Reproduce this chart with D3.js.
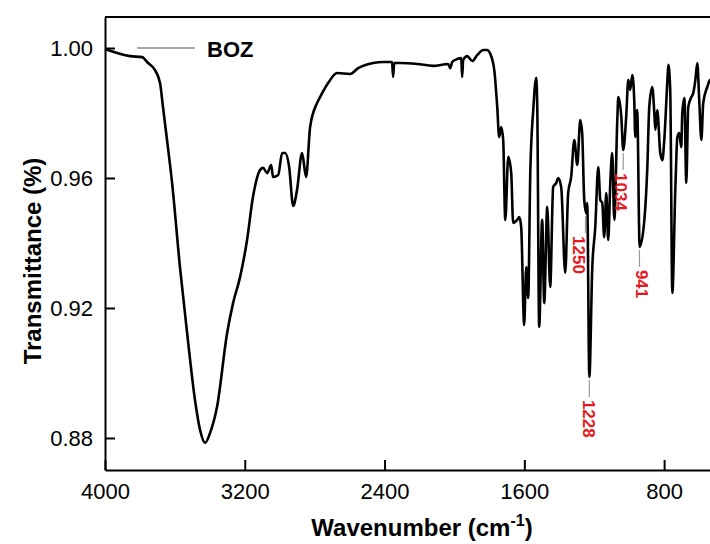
<!DOCTYPE html>
<html>
<head>
<meta charset="utf-8">
<script src="https://cdn.jsdelivr.net/npm/d3@7"></script>
<style>
    body { margin: 0; background: #fff; }
    svg { display: block; font-family: 'Liberation Sans', Arial, sans-serif; }
    .axis path, .axis line { stroke: #000; stroke-width: 2; }
    .axis text { font-size: 22px; fill: #000; }
    .axis-title { font-size: 24px; font-weight: bold; }
    .peak-label { font-size: 17px; font-weight: bold; fill: #e8191e; }
</style>
</head>
<body>
<svg id="chart"></svg>
<script>
// FTIR spectrum of BOZ
const wavenumber = [
    4000, 3857, 3788, 3754, 3714, 3685, 3668, 3645, 3616, 3571,
    3530, 3485, 3456, 3427, 3399, 3359, 3301, 3267, 3227, 3187,
    3153, 3112, 3095, 3072, 3049, 3038, 3009, 2986, 2969, 2946,
    2923, 2901, 2872, 2849, 2826, 2786, 2769, 2723, 2672, 2597,
    2551, 2465, 2408, 2357, 2351, 2345, 2311, 2213, 2122, 2036,
    2024, 2013, 1984, 1961, 1956, 1950, 1927, 1898, 1870, 1835,
    1813, 1795, 1772, 1755, 1744, 1732, 1721, 1709, 1692, 1675,
    1664, 1641, 1629, 1618, 1601, 1589, 1578, 1566, 1549, 1532,
    1526, 1515, 1498, 1486, 1469, 1452, 1435, 1417, 1406, 1389,
    1366, 1349, 1332, 1314, 1297, 1280, 1269, 1257, 1246, 1240,
    1228, 1211, 1194, 1177, 1165, 1154, 1143, 1131, 1120, 1108,
    1097, 1085, 1068, 1062, 1045, 1034, 1017, 1005, 994, 982,
    971, 965, 954, 940, 913, 896, 885, 868, 856, 850,
    839, 822, 810, 799, 782, 776, 765, 753, 736, 724,
    713, 702, 696, 684, 673, 662, 644, 633, 621, 610,
    599, 587, 576, 553, 536, 507
];

const transmittance = [
    0.9997, 0.9975, 0.9972, 0.9954, 0.9932, 0.9892, 0.9818, 0.9717, 0.9585, 0.9326,
    0.9123, 0.8917, 0.8825, 0.8785, 0.8815, 0.8895, 0.9123, 0.9215, 0.9295, 0.9409,
    0.9542, 0.9625, 0.9631, 0.9615, 0.9640, 0.9603, 0.9609, 0.9677, 0.9677, 0.9634,
    0.9514, 0.9563, 0.9677, 0.9603, 0.9757, 0.9831, 0.9849, 0.9892, 0.9923, 0.9920,
    0.9938, 0.9954, 0.9957, 0.9957, 0.9911, 0.9954, 0.9954, 0.9951, 0.9945, 0.9951,
    0.9938, 0.9957, 0.9966, 0.9969, 0.9911, 0.9963, 0.9975, 0.9960, 0.9978, 0.9994,
    0.9994, 0.9982, 0.9932, 0.9818, 0.9726, 0.9757, 0.9717, 0.9471, 0.9665, 0.9615,
    0.9462, 0.9471, 0.9480, 0.9449, 0.9148, 0.9326, 0.9231, 0.9615, 0.9809, 0.9908,
    0.9818, 0.9142, 0.9471, 0.9215, 0.9511, 0.9265, 0.9572, 0.9585, 0.9600, 0.9572,
    0.9308, 0.9554, 0.9603, 0.9717, 0.9640, 0.9778, 0.9738, 0.9532, 0.9492, 0.9523,
    0.8988, 0.9326, 0.9449, 0.9634, 0.9532, 0.9523, 0.9418, 0.9554, 0.9409, 0.9585,
    0.9677, 0.9471, 0.9778, 0.9849, 0.9788, 0.9686, 0.9788, 0.9902, 0.9871, 0.9917,
    0.9840, 0.9726, 0.9809, 0.9388, 0.9471, 0.9634, 0.9818, 0.9880, 0.9800, 0.9748,
    0.9809, 0.9677, 0.9655, 0.9717, 0.9892, 0.9948, 0.9871, 0.9246, 0.9563, 0.9726,
    0.9738, 0.9695, 0.9800, 0.9846, 0.9585, 0.9818, 0.9849, 0.9862, 0.9902, 0.9954,
    0.9840, 0.9717, 0.9831, 0.9880, 0.9902, 0.9886
];

// annotated bands: label, wavenumber, transmittance where the leader starts
const peakLabels = ['1250', '1228', '1034', '941'];
const peakWavenumber = [1250, 1228, 1034, 941];
const peakTransmittance = [0.9492, 0.8988, 0.9686, 0.9388];

const xTicks = [4000, 3200, 2400, 1600, 800];
const yTicks = [0.88, 0.92, 0.96, 1.00];
const seriesName = 'BOZ';

const config = {
    width: 710,
    height: 544,
    margin: { top: 17, left: 105, bottom: 74 },
    plotRight: 734,
    tickLength: 10,
    labelShift: [-7, 0, -2, 2],   // nudges so the red labels clear the curve
};

const svg = d3.select('#chart')
    .attr('width', config.width)
    .attr('height', config.height);

const plotBottom = config.height - config.margin.bottom;

const xScale = d3.scaleLinear()
    .domain([4000, 400])
    .range([config.margin.left, config.plotRight]);

const yScale = d3.scaleLinear()
    .domain([0.87015, 1.00954])
    .range([plotBottom, config.margin.top]);

// axes, ticks point inward
const xAxis = d3.axisBottom(xScale)
    .tickValues(xTicks)
    .tickSizeInner(-config.tickLength)
    .tickSizeOuter(0)
    .tickPadding(13)
    .tickFormat(d3.format('d'));

const yAxis = d3.axisLeft(yScale)
    .tickValues(yTicks)
    .tickSizeInner(-config.tickLength)
    .tickSizeOuter(0)
    .tickPadding(12)
    .tickFormat(d3.format('.2f'));

svg.append('g')
    .attr('class', 'axis')
    .attr('transform', `translate(0, ${plotBottom})`)
    .call(xAxis);

svg.append('g')
    .attr('class', 'axis')
    .attr('transform', `translate(${config.margin.left}, 0)`)
    .call(yAxis);

svg.selectAll('.axis text').attr('font-family', null);

// top border of the frame
svg.append('line')
    .attr('x1', config.margin.left)
    .attr('x2', config.plotRight)
    .attr('y1', config.margin.top)
    .attr('y2', config.margin.top)
    .attr('stroke', '#000')
    .attr('stroke-width', 2);

// spectrum
const points = wavenumber.map((w, i) => ({ w: w, t: transmittance[i] }));

const line = d3.line()
    .x(d => xScale(d.w))
    .y(d => yScale(d.t))
    .curve(d3.curveMonotoneX);

svg.append('path')
    .datum(points)
    .attr('d', line)
    .attr('fill', 'none')
    .attr('stroke', '#000')
    .attr('stroke-width', 2.6)
    .attr('stroke-linejoin', 'round');

// legend
const legendY = yScale(1.00);
svg.append('line')
    .attr('x1', 137)
    .attr('x2', 195)
    .attr('y1', legendY)
    .attr('y2', legendY)
    .attr('stroke', '#8a8a8a')
    .attr('stroke-width', 1.5);

svg.append('text')
    .attr('x', 207)
    .attr('y', legendY + 9)
    .attr('font-size', 22)
    .attr('font-weight', 'bold')
    .text(seriesName);

// peak annotations
const peaks = peakLabels.map((label, i) => ({
    label: label,
    x: xScale(peakWavenumber[i]),
    y: yScale(peakTransmittance[i]),
    shift: config.labelShift[i],
}));

svg.selectAll('.peak-leader')
    .data(peaks)
    .join('line')
    .attr('class', 'peak-leader')
    .attr('x1', d => d.x)
    .attr('x2', d => d.x)
    .attr('y1', d => d.y + 3)
    .attr('y2', d => d.y + 20)
    .attr('stroke', '#9a9a9a')
    .attr('stroke-width', 1.2);

svg.selectAll('.peak-label')
    .data(peaks)
    .join('text')
    .attr('class', 'peak-label')
    .attr('transform', d => `translate(${d.x + d.shift}, ${d.y + 23}) rotate(90)`)
    .attr('dy', '0.35em')
    .text(d => d.label);

// axis titles
svg.append('text')
    .attr('class', 'axis-title')
    .attr('transform', 'translate(33, 261) rotate(-90)')
    .attr('text-anchor', 'middle')
    .attr('dy', '0.35em')
    .text('Transmittance (%)');

const xTitle = svg.append('text')
    .attr('class', 'axis-title')
    .attr('x', 422)
    .attr('y', 536)
    .attr('text-anchor', 'middle');

xTitle.append('tspan').text('Wavenumber (cm');
xTitle.append('tspan')
    .attr('font-size', 16)
    .attr('dy', -10)
    .text('-1');
xTitle.append('tspan')
    .attr('dy', 10)
    .text(')');
</script>
</body>
</html>
